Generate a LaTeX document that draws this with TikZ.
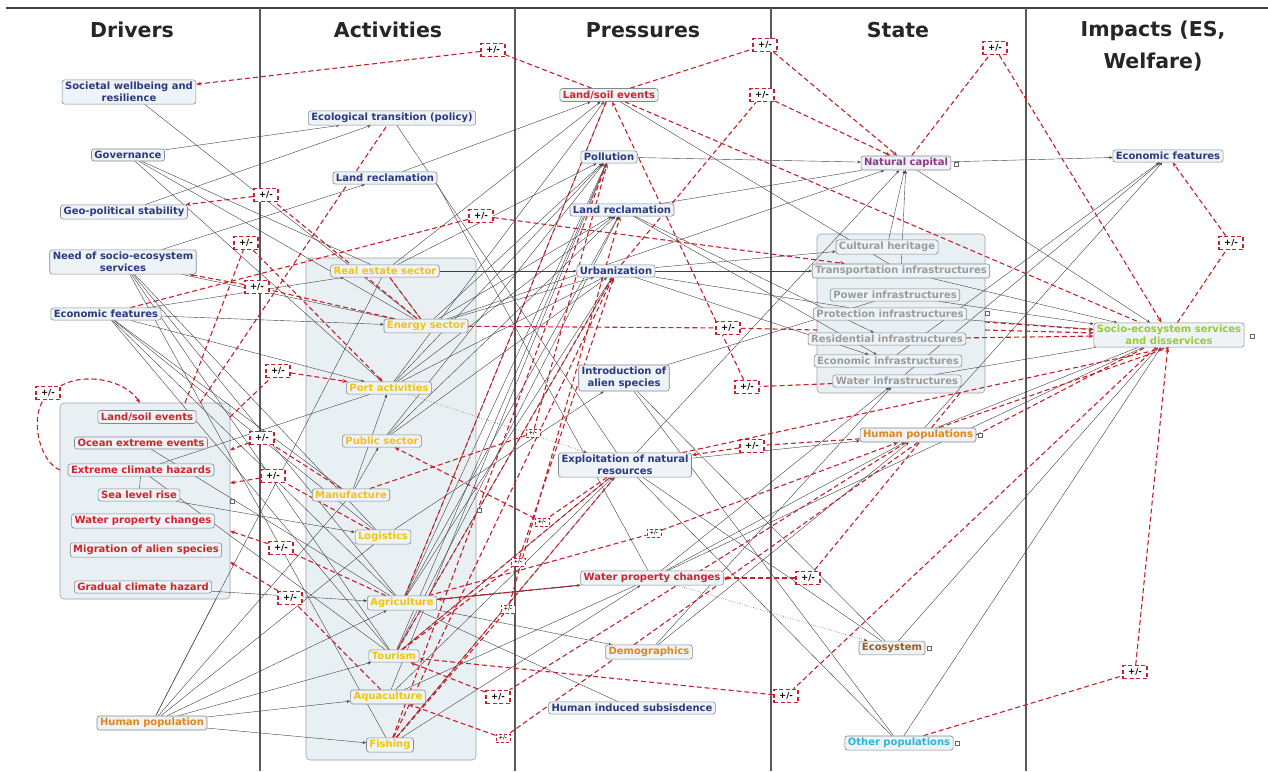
\documentclass[tikz,border=0pt]{standalone}
\usepackage{fontspec}
\setmainfont{DejaVu Sans}
\usetikzlibrary{arrows.meta}
\pgfdeclarelayer{bg}\pgfdeclarelayer{edges}
\pgfsetlayers{bg,edges,main}
\definecolor{cblue}{HTML}{2B3A80}
\definecolor{cred}{HTML}{D2232A}
\definecolor{cyel}{HTML}{F2C40F}
\definecolor{corg}{HTML}{E3861B}
\definecolor{cpur}{HTML}{8C3A86}
\definecolor{cgry}{HTML}{9B9B9B}
\definecolor{cbrn}{HTML}{9A5B22}
\definecolor{ccyn}{HTML}{2BB5D8}
\definecolor{cgrn}{HTML}{9BCB2A}
\definecolor{nfill}{HTML}{EEF3F7}
\definecolor{gfill}{HTML}{E9F0F4}
\definecolor{ndraw}{HTML}{7F8A93}
\definecolor{rdash}{HTML}{C8202A}
\begin{document}
\begin{tikzpicture}[x=1pt,y=-1pt,
  nd/.style={draw=ndraw, fill=nfill, rounded corners=2.5pt, line width=0.6pt, inner xsep=3pt, inner ysep=2.2pt, align=center, font=\fontsize{10}{12}\selectfont\bfseries},
  grp/.style={draw=ndraw!80, fill=gfill, rounded corners=4pt, line width=0.6pt, inner sep=0pt},
  bl/.style={draw=black!75, line width=0.4pt, -{Stealth[length=3.5pt,width=2.8pt]}},
  bln/.style={draw=black!75, line width=0.4pt},
  rd/.style={draw=rdash, line width=1.1pt, dash pattern=on 5pt off 3pt},
  rda/.style={rd, -{Stealth[length=5pt,width=4pt]}},
  pm/.style={draw=rdash, line width=1.4pt, dash pattern=on 4pt off 2.5pt, fill=white, minimum width=24pt, minimum height=13pt, inner sep=0pt, font=\fontsize{8.5}{8.5}\selectfont\bfseries},
  pms/.style={pm, minimum width=14pt, minimum height=8pt, line width=1pt, dash pattern=on 3pt off 2pt, font=\fontsize{5}{5}\selectfont\bfseries},
  hd/.style={font=\fontsize{20.5}{32}\selectfont\bfseries, align=center, text=black!85},
  icon/.style={draw=black!60, line width=0.4pt, fill=white, minimum size=4pt, inner sep=0pt}
]
\useasboundingbox (0,0) rectangle (1268,771);

% ---------- background: dividers and groups ----------
\begin{pgfonlayer}{bg}
\fill[white] (0,0) rectangle (1268,771);
\draw[black!75, line width=1.4pt] (6,8) -- (1268,8);
\foreach \x in {260,515,771,1026} \draw[black!65, line width=1.4pt] (\x,8) -- (\x,771);
\node[grp, minimum width=170pt, minimum height=196pt] (hz) at (145,501) {};
\node[grp, minimum width=170pt, minimum height=502pt] (actg) at (391,509) {};
\node[grp, minimum width=168pt, minimum height=159pt] (stgrp) at (901,313.5) {};
\end{pgfonlayer}

% anchor points on the group borders
\coordinate (hzt1) at (185,403);
\coordinate (hzt2) at (200,403);
\coordinate (hzt3) at (140,403);
\coordinate (hzr0) at (230,417);
\coordinate (hzr4) at (230,450);
\coordinate (hzr1) at (230,483);
\coordinate (hzr2) at (230,531);
\coordinate (hzr3) at (230,562);
\coordinate (hzb) at (216,599);
\coordinate (hzl) at (60,470);
\coordinate (sgr) at (985,330);
\coordinate (sgr2) at (985,322);
\coordinate (sgb) at (960,393);
\coordinate (sgl) at (817,330);

% ---------- headers ----------
\node[hd] (h1) at (132,30) {Drivers};
\node[hd] (h2) at (388,30) {Activities};
\node[hd] (h3) at (643,30) {Pressures};
\node[hd] (h4) at (898,30) {State};
\node[hd] (h5) at (1153,46) {Impacts (ES,\\Welfare)};

% ---------- Drivers ----------
\node[nd,text=cblue] (soc) at (129,92) {Societal wellbeing and\\resilience};
\node[nd,text=cblue] (gov) at (128,155) {Governance};
\node[nd,text=cblue] (geo) at (124,212) {Geo-political stability};
\node[nd,text=cblue] (need) at (123,262) {Need of socio-ecosystem\\services};
\node[nd,text=cblue] (ecod) at (106,314) {Economic features};
\node[nd,text=cred] (lse) at (147,417) {Land/soil events};
\node[nd,text=cred] (oce) at (141,443) {Ocean extreme events};
\node[nd,text=cred] (ech) at (141,470) {Extreme climate hazards};
\node[nd,text=cred] (slr) at (139,495) {Sea level rise};
\node[nd,text=cred] (wpd) at (143,521) {Water property changes};
\node[nd,text=cred] (mig) at (146,550) {Migration of alien species};
\node[nd,text=cred] (gch) at (143,587) {Gradual climate hazard};
\node[nd,text=corg] (hpop) at (152,723) {Human population};

% ---------- Activities ----------
\node[nd,text=cblue] (eco) at (392,118) {Ecological transition (policy)};
\node[nd,text=cblue] (lra) at (385,178) {Land reclamation};
\node[nd,text=cyel] (res) at (385,271) {Real estate sector};
\node[nd,text=cyel] (ens) at (426,326) {Energy sector};
\node[nd,text=cyel] (port) at (389,388) {Port activities};
\node[nd,text=cyel] (pub) at (382,441) {Public sector};
\node[nd,text=cyel] (man) at (351,495) {Manufacture};
\node[nd,text=cyel] (log) at (383,537) {Logistics};
\node[nd,text=cyel] (agr) at (402,603) {Agriculture};
\node[nd,text=cyel] (tou) at (394,656) {Tourism};
\node[nd,text=cyel] (aqu) at (388,697) {Aquaculture};
\node[nd,text=cyel] (fis) at (390,745) {Fishing};

% ---------- Pressures ----------
\node[nd,text=cred] (lsp) at (609,95) {Land/soil events};
\node[nd,text=cblue] (pol) at (609,157) {Pollution};
\node[nd,text=cblue] (lrp) at (622,210) {Land reclamation};
\node[nd,text=cblue] (urb) at (616,271) {Urbanization};
\node[nd,text=cblue] (ias) at (624,378) {Introduction of\\alien species};
\node[nd,text=cblue] (exp) at (625,465) {Exploitation of natural\\resources};
\node[nd,text=cred] (wpp) at (652,578) {Water property changes};
\node[nd,text=corg] (dem) at (649,652) {Demographics};
\node[nd,text=cblue] (his) at (632,708) {Human induced subsisdence};

% ---------- State ----------
\node[nd,text=cpur] (ncap) at (906,163) {Natural capital};
\node[nd,text=cgry] (cult) at (887,247) {Cultural heritage};
\node[nd,text=cgry] (trans) at (901,271) {Transportation infrastructures};
\node[nd,text=cgry] (power) at (895,295) {Power infrastructures};
\node[nd,text=cgry] (prot) at (890,314) {Protection infrastructures};
\node[nd,text=cgry] (resi) at (887,339) {Residential infrastructures};
\node[nd,text=cgry] (econi) at (888,361) {Economic infrastructures};
\node[nd,text=cgry] (water) at (897,381) {Water infrastructures};
\node[nd,text=corg] (hpops) at (918,435) {Human populations};
\node[nd,text=cbrn] (ecos) at (892,648) {Ecosystem};
\node[nd,text=ccyn] (opop) at (899,743) {Other populations};

% ---------- Impacts ----------
\node[nd,text=cblue] (econf) at (1168,156) {Economic features};
\node[nd,text=cgrn] (ses) at (1169,335) {Socio-ecosystem services\\and disservices};

% ---------- +/- relation boxes ----------
\node[pm] (p1) at (493,50) {+/-};
\node[pm] (p2) at (765,45) {+/-};
\node[pm] (p3) at (762,95) {+/-};
\node[pm] (p4) at (995,48) {+/-};
\node[pm] (p5) at (266,195) {+/-};
\node[pm] (p6) at (246,243) {+/-};
\node[pm] (p7) at (481,216) {+/-};
\node[pm] (p8) at (257,287) {+/-};
\node[pm] (p9) at (278,371) {+/-};
\node[pm] (p10) at (48,393) {+/-};
\node[pm] (p11) at (262,438) {+/-};
\node[pm] (p12) at (273,476) {+/-};
\node[pm] (p13) at (728,328) {+/-};
\node[pm] (p14) at (747,387) {+/-};
\node[pms] (p15) at (533,433) {+/-};
\node[pm] (p16) at (752,446) {+/-};
\node[pm] (p17) at (1231,243) {+/-};
\node[pm] (p18) at (281,548) {+/-};
\node[pm] (p19) at (290,598) {+/-};
\node[pms] (p20) at (542,522) {+/-};
\node[pms] (p21) at (518,562) {+/-};
\node[pms] (p22) at (654,533) {+/-};
\node[pm] (p23) at (808,578) {+/-};
\node[pms] (p24) at (508,609) {+/-};
\node[pm] (p25) at (498,697) {+/-};
\node[pms] (p26) at (503,738) {+/-};
\node[pm] (p27) at (786,696) {+/-};
\node[pm] (p28) at (1135,672) {+/-};

% small collapse icons
\node[icon] (i1) at (232,501) {};
\node[icon] (i2) at (479,510) {};
\node[icon] (i3) at (987,313) {};
\node[icon] (i4) at (956,164) {};
\node[icon] (i5) at (980,435) {};
\node[icon] (i6) at (929,648) {};
\node[icon] (i7) at (957,743) {};
\node[icon] (i8) at (1252,336) {};

% ---------- connectors ----------
\begin{pgfonlayer}{edges}
% black, with arrows
\foreach \a/\b in {gov/eco, geo/eco, need/lra, ecod/ens, ecod/res, ecod/port,
  hpop/fis, hpop/aqu, hpop/tou, hpop/agr, gch/agr, slr/log, man/pub, man/port,
  lra/lsp, res/urb, urb/trans, urb/cult, pol/ncap, ncap/econf, agr/dem,
  log/ias, ens/ncap, cult/ncap, trans/ncap, power/ses, prot/ses, water/econf,
  econi/econf, exp/hpops, res/lsp, res/pol, ens/pol, ens/lrp, ens/urb,
  port/pol, port/lrp, port/urb, port/lsp, pub/urb, pub/lrp, pub/pol,
  agr/pol, agr/lsp, agr/urb, agr/lrp, tou/pol, tou/urb, tou/lrp,
  aqu/exp, aqu/pol, fis/exp, fis/wpp, lrp/resi, lrp/econi, urb/econi,
  exp/ncap, wpp/hpops, wpp/water, dem/water, dem/hpops, hpops/econf,
  ecos/ses, opop/ses, ncap/ses, trans/ses}
  \draw[bl] (\a) -- (\b);
% black, no arrows
\foreach \a/\b in {soc/ens, gov/res, gov/ens, gov/port, need/ens, need/log,
  need/agr, need/tou, need/fis, ecod/man, ecod/log, ecod/agr, ecod/tou,
  hpop/hzb, hpop/res, hpop/log, hpop/man, oce/agr, ech/tou, ech/port, slr/ech,
  eco/exp, res/ens, agr/his, tou/exp, aqu/wpp, lsp/trans, ias/ecos, ias/opop,
  exp/opop, exp/ecos, wpp/ses, hpops/ses, water/ses, urb/prot, lrp/ncap, ias/power}
  \draw[bln] (\a) -- (\b);
\draw[bl, line width=0.9pt] (agr) -- (wpp);
\draw[bl, dotted, line width=0.7pt] (port) -- (exp);
\draw[bl, dotted, line width=0.7pt] (wpp) -- (ecos);
\draw[bln] (lra.south east) -- (wpp);

% red dashed through +/- boxes
\draw[rd] (lsp) -- (p1);   \draw[rda] (p1) -- (soc);
\draw[rd] (lsp) -- (p2);   \draw[rda] (p2) -- (ncap);
\draw[rd] (urb) -- (p3);   \draw[rda] (p3) -- (ncap);
\draw[rd] (ncap) -- (p4);  \draw[rda] (p4) -- (ses);
\draw[rd] (ens) -- (p5);   \draw[rda] (p5) -- (geo);
\draw[rd] (hzt1) -- (p6);  \draw[rda] (p6) -- (port);
\draw[rd] (hzt2) -- (eco);
\draw[rd] (ecod) -- (p7);  \draw[rda] (p7) -- (trans);
\draw[rd] (ens) -- (p8);   \draw[rda] (p8) -- (need);
\draw[rd] (hzr0) -- (p9);  \draw[rda] (p9) -- (port);
\draw[rd] (hzl) .. controls (40,462) and (30,420) .. (p10);
\draw[rda] (p10) .. controls (85,372) and (125,380) .. (hzt3);
\draw[rd] (man) -- (p11);  \draw[rda] (p11) -- (hzr4);
\draw[rd] (log) -- (p12);  \draw[rda] (p12) -- (hzr1);
\draw[rd] (ens) -- (p13);  \draw[rd] (p13) -- (sgl);
\draw[rd] (water) -- (p14); \draw[rda] (p14) -- (lsp);
\draw[rd] (man) -- (p15);  \draw[rda] (p15) -- (pol);
\draw[rd] (hpops) -- (p16); \draw[rda] (p16) -- (exp);
\draw[rd] (ses) -- (p17);  \draw[rda] (p17) -- (econf);
\draw[rd] (agr) -- (p18);  \draw[rda] (p18) -- (hzr2);
\draw[rd] (aqu) -- (p19);  \draw[rda] (p19) -- (hzr3);
\draw[rd] (exp) -- (p20);  \draw[rda] (p20) -- (pub);
\draw[rd] (tou) -- (p21);  \draw[rda] (p21) -- (urb);
\draw[rd] (agr) -- (p22);  \draw[rda] (p22) -- (hpops);
\draw[rd] (sgb) -- (p23); \draw[rda] (p23) -- (wpp);
\draw[rd] (fis) -- (p24);  \draw[rda] (p24) -- (lrp);
\draw[rd] (hpops) -- (p25); \draw[rda] (p25) -- (tou);
\draw[rd] (hpops.south) -- (p26); \draw[rda] (p26) -- (aqu);
\draw[rd] (ses) -- (p27);  \draw[rda] (p27) -- (tou);
\draw[rd] (opop) -- (p28); \draw[rda] (p28) -- (ses);

% red dashed, direct
\draw[rda] (wpp) -- (agr);
\draw[rda] (resi) -- (ses);
\draw[rda] (sgr) -- (ses);
\draw[rda] (sgr2) -- (ses);
\draw[rd] (lsp) -- (ses);
\draw[rd] (hpops) -- (ses.south);
\draw[rd] (hpops.east) -- (ses);
\draw[rd] (exp) -- (ses.south);
\draw[rd] (tou) -- (urb);
\draw[rd] (fis) -- (urb);
\draw[rd] (fis) -- (pol);
\draw[rd] (agr) -- (lsp);
\draw[rd] (tou) -- (exp);
\draw[rd] (fis) -- (exp);
\draw[rd] (res) -- (ens);
\end{pgfonlayer}
\end{tikzpicture}
\end{document}
